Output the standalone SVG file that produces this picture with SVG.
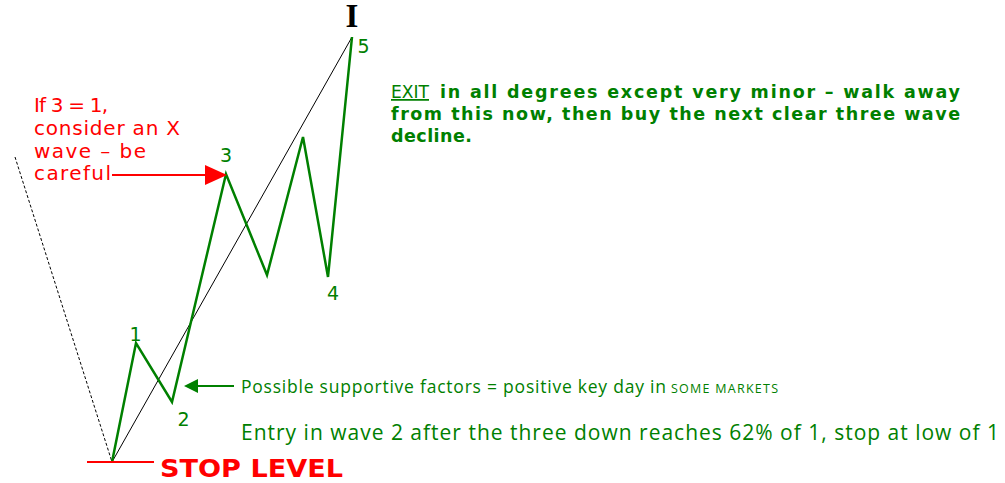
<svg xmlns="http://www.w3.org/2000/svg" width="1005" height="483" viewBox="0 0 1005 483">
<style>
.lbl{font-family:"DejaVu Sans",Verdana,sans-serif;font-size:19px;fill:#008000;text-anchor:middle}
.red{font-family:"DejaVu Sans",Verdana,sans-serif;font-size:20px;fill:#ff0000}
.para{font-family:"DejaVu Sans",Verdana,sans-serif;font-size:17.5px;font-weight:bold;fill:#008000}
.note{font-family:"Open Sans",Lato,sans-serif;fill:#008000}
.wave{fill:none;stroke:#008000;stroke-width:2.5;stroke-linejoin:miter}
</style>
<rect width="1005" height="483" fill="#ffffff"/>
<g id="connectors">
<line x1="15" y1="157" x2="112" y2="462" stroke="#000" stroke-width="1" stroke-dasharray="3,2"/>
<line x1="112" y1="462" x2="352" y2="37" stroke="#000" stroke-width="1"/>
<polyline class="wave" points="112,462 136,343 172,402 226,174 267,275 303,137 328,277 352,37"/>
<line x1="87" y1="462" x2="154" y2="462" stroke="#ff0000" stroke-width="2"/>
<line x1="112" y1="175" x2="207" y2="175" stroke="#ff0000" stroke-width="2"/>
<polygon points="205,165 227,175 205,185" fill="#ff0000"/>
<line x1="196" y1="386" x2="234" y2="386" stroke="#008000" stroke-width="2"/>
<polygon points="184,386 198,379 198,393" fill="#008000"/>
</g>
<g id="node-I"><text x="352" y="27" font-family="'Liberation Serif','Times New Roman',serif" font-weight="bold" font-size="33" text-anchor="middle">I</text></g>
<g id="node-1"><text class="lbl" x="135.5" y="341">1</text></g>
<g id="node-2"><text class="lbl" x="183.5" y="426">2</text></g>
<g id="node-3"><text class="lbl" x="226" y="162">3</text></g>
<g id="node-4"><text class="lbl" x="333" y="300">4</text></g>
<g id="node-5"><text class="lbl" x="363.5" y="53">5</text></g>
<g id="note-x">
<text class="red" x="34" y="112" textLength="74" lengthAdjust="spacing">If 3 = 1,</text>
<text class="red" x="34" y="135" textLength="146" lengthAdjust="spacing">consider an X</text>
<text class="red" x="34" y="157.5" textLength="112" lengthAdjust="spacing">wave – be</text>
<text class="red" x="34" y="180" textLength="77" lengthAdjust="spacing">careful</text>
</g>
<g id="note-exit">
<text x="391" y="98" font-family="'DejaVu Sans',Verdana,sans-serif" font-size="17.5" fill="#008000" text-decoration="underline" textLength="38" lengthAdjust="spacingAndGlyphs">EXIT</text>
<text class="para" x="440" y="98" textLength="520" lengthAdjust="spacing">in all degrees except very minor – walk away</text>
<text class="para" x="391" y="120" textLength="569" lengthAdjust="spacing">from this now, then buy the next clear three wave</text>
<text class="para" x="391" y="142" textLength="81" lengthAdjust="spacing">decline.</text>
</g>
<g id="note-support">
<text class="note" x="241" y="393" font-size="17.5" textLength="425" lengthAdjust="spacing">Possible supportive factors = positive key day in</text>
<text class="note" x="671" y="393" font-size="12.5" textLength="107" lengthAdjust="spacing">SOME MARKETS</text>
</g>
<g id="note-entry">
<text class="note" x="241" y="440" font-size="21" textLength="758" lengthAdjust="spacing">Entry in wave 2 after the three down reaches 62% of 1, stop at low of 1</text>
</g>
<g id="node-stop">
<text x="160" y="477" font-family="'DejaVu Sans',Tahoma,sans-serif" font-weight="bold" font-size="25" fill="#ff0000" textLength="183" lengthAdjust="spacingAndGlyphs">STOP LEVEL</text>
</g>
</svg>
